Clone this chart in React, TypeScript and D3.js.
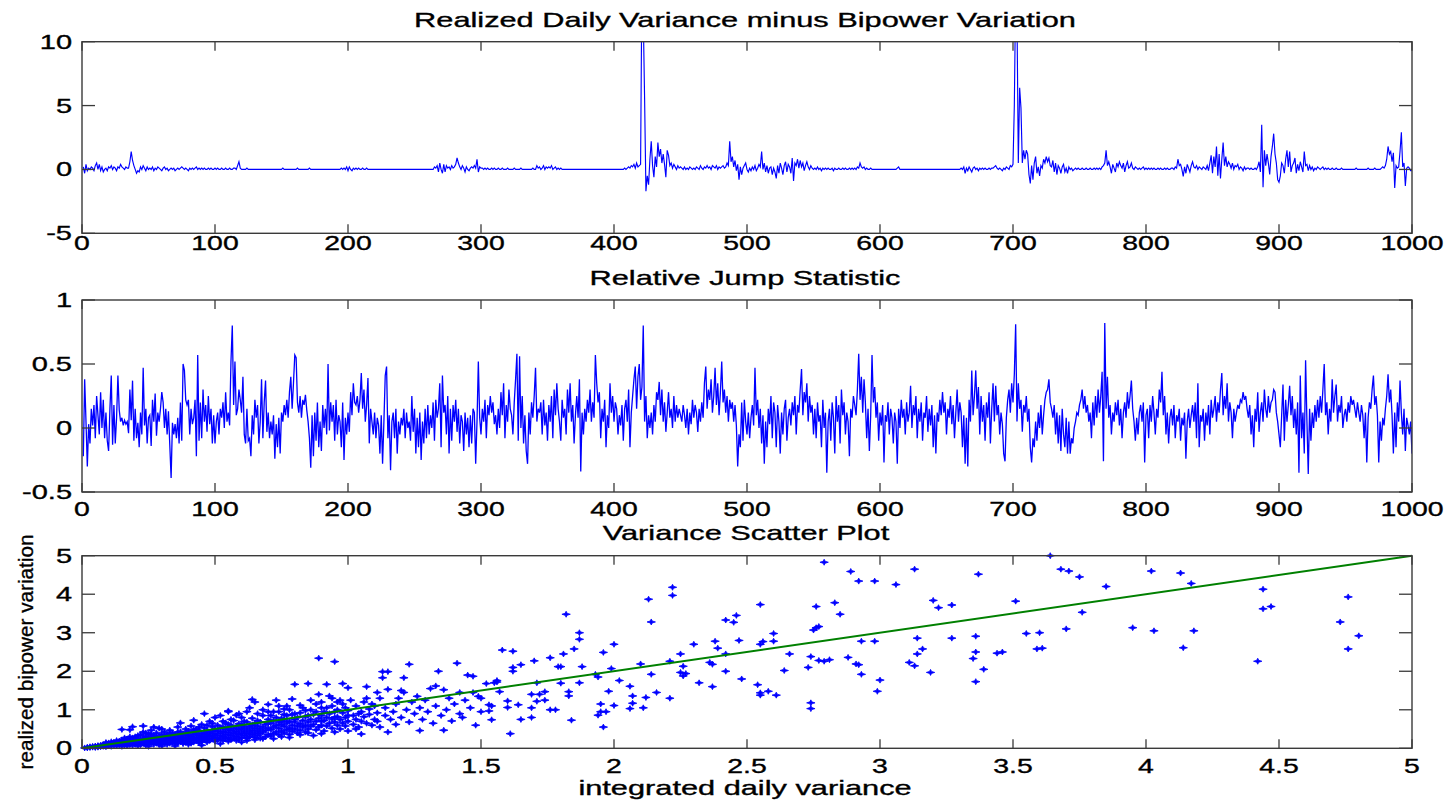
import React from "react";
import * as d3 from "d3";

// ---------------- DATA ----------------
// Panel 1: realized daily variance minus bipower variation, days 1..1000
const rvMinusBv: number[] = [
  0.2,-0.3,0.4,-0.1,0.1,0,0.2,0.1,-0.1,0.3, 0.5,0,0.4,-0.1,0.2,-0.2,0,0.1,-0.1,0.2, 0.1,0.3,0,0.2,0.1,-0.1,0.2,0.1,0.4,0.2, 0.1,0,0.2,0.1,0.1,0.6,1.4,0.7,0.3,0, -0.3,-0.1,-0.2,0.2,0,0.3,0.1,-0.1,0.2,0,
  0.1,0,0.2,-0.1,0.1,0,0.2,0.1,0,-0.1, 0.1,0.2,0,0.1,-0.1,0,0.1,0,0.1,-0.1, 0,0.1,0,0.1,0.2,0.1,0,0.1,0,-0.1, 0.1,0,0.1,0,0.1,0.2,0,0.1,0,0.1, 0,0.1,0,0,0.1,0,0.1,0,0,0.1,
  0,0.1,0,0,0.1,0,0,0.1,0,0, 0.1,0,0,0.1,0.1,0,0.3,0.6,0.1,0, 0,0,0,0.1,0,0,0,0,0,0, 0,0,0,0,0,0,0,0,0,0, 0,0,0,0,0,0,0,0,0,0,
  0.1,0,0,0,0,0,0,0,0,0, 0,0.1,0,0,0,0,0,0,0,0, 0.1,0,0,0,0,0,0,0,0,0, 0,0,0,0,0,0,0,0,0,0, 0,0,0,0,0.1,0,0.1,0,0.2,-0.1,
  0.2,0,-0.1,0.1,0,0.1,0,0.1,0,0, 0.1,0,0,0.1,0,0,0,0,0,0, 0,0,0,0,0,0,0,0,0,0, 0,0,0,0,0,0,0,0,0,0, 0,0,0,0,0,0,0,0,0,0,
  0,0,0,0,0,0,0,0,0,0, 0,0,0,0,0.2,0.1,0.3,-0.2,0.5,0, -0.3,0.4,-0.2,0.3,0.1,0.2,0,0.3,0.1,0.2, 0.4,0.9,0.5,0.2,0,0.3,0.1,-0.2,0.2,0, -0.1,0.1,0.2,0.1,0.3,0.1,0.8,-0.2,0.2,0.1,
  0.1,0,0.1,0,0.1,0,0,0.1,0,0.1, 0,0,0.1,0,0,0.1,0,0,0,0.1, 0,0,0,0,0.1,0,0,0,0,0.1, 0,0,0,0,0,0,0,0,0.1,0, 0,0.3,0.1,0.2,0,0.1,0.3,0,0.2,0.1,
  0.2,0.1,0.3,0,0.1,0.2,0,0.1,0,0.1, 0,0,0,0,0,0,0,0,0,0, 0,0,0,0,0,0,0,0,0,0, 0,0,0,0,0,0,0,0,0,0, 0,0,0,0,0,0,0,0,0,0,
  0,0,0,0,0,0,0,0.1,0,0.1, 0.2,0.1,0.3,0.2,0.4,0.1,0.5,0.2,0.3,0.4, 15,12,5.6,-1.7,-0.5,-1.2,0.8,2.2,0.3,-0.6, 1.0,0.2,2.1,1.0,1.6,0.5,1.2,0.4,-0.6,1.5, 1.1,0.3,0.5,0.1,0.4,0.2,0,0.3,0.1,0.2,
  0.1,0,0.2,0,0.1,0,0.2,0.1,0,0.1, 0,0.2,0.1,0,0.3,0.1,0,0.2,0.1,0.3, 0.1,0.2,0,0.3,0.2,0.1,0.3,0,0.2,0.1, 0.2,0.3,0.1,0.2,0.5,0.3,2.2,0.6,1.0,0.2, 0.7,-0.1,0.4,-0.8,0.2,-0.4,0.1,0.3,0.5,0,
  -0.2,0.1,-0.1,0.2,0,0.3,-0.1,0.1,0.4,0.2, 1.4,0,0.5,-0.2,0.3,-0.3,0.1,0.2,-0.4,0.1, -0.2,-0.7,0.3,-0.3,0.5,0.1,-0.4,0.3,0.6,-0.2, 0.4,0.2,-0.3,0.9,-0.9,0.5,0.3,0.8,0.1,0.7, 0.2,0.5,-0.1,0.3,0.6,0.2,0,0.3,0.1,0,
  0.1,0,0.2,0,0.1,-0.1,0.1,0,0.1,0, 0.1,0,0,0.1,-0.1,0.1,0,0,0.1,0, 0,0.1,0,0.1,0,0,0.1,0,0.1,0, 0.1,0,0.2,0.1,0.5,0.2,0.1,0.2,0,0.1, 0,0,0.1,0,0,0,0,0,0,0,
  0,0,0,0,0,0,0,0,0,0, 0,0,0.1,0.2,0,0,0,0,0,0, 0,0,0,0,0,0,0,0,0,0, 0,0,0,0,0,0,0,0,0,0, 0,0,0,0,0,0,0,0,0,0,
  0,0,0,0,0,0,0,0,0,0, 0.1,0,0.2,-0.3,0.1,-0.1,0.2,0,-0.2,0.1, 0.2,0,0.1,-0.1,0.1,0,0.1,0,0.1,0, 0,0.1,0,0.1,0.1,0.2,0.3,0.1,0,0.1, 0,-0.1,0.1,0,0.2,0.1,0,0.3,0.2,0.4,
  5.0,14,12,0.5,6.4,4.8,0.5,1.5,0.8,1.5, 1.2,-0.4,-1.1,0.3,-0.8,0.5,1.0,-0.3,0.2,-0.5, 0.3,0.1,0.8,0.5,1.0,0.6,0.9,0.3,0.2,0.7, -0.2,0.5,-0.4,0.3,0.1,-0.3,0.2,0.4,-0.2,0.1, -0.3,0.2,0,0.1,-0.1,0,0.1,0,0.1,0,
  0,0.1,0,0,0.1,0,0,0.1,0,0, 0.1,0,0.1,0,0.1,0,0.2,0.3,0.5,1.5, 0.3,0.6,0.2,-0.3,0.4,0.1,-0.2,0.5,0.2,0.6, 0.3,0.1,0.5,-0.2,0.3,0.6,0.1,0.2,0.5,0.1, 0,0.2,0.1,0,0.1,0,0.1,0.2,0,0.1,
  0,0.1,0,0.1,0,0.1,0,0,0.1,0, 0.1,0,0,0.1,0,0.1,0,0,0.1,0.1, 0,0.2,0.1,0.8,0.3,0.4,0,-0.55,0.2,-0.3, 0.4,0.1,-0.2,0.3,0.6,0.2,0.1,0.3,0,0.2, 0.1,0,0.2,0.1,0,0.3,-0.1,0.5,1.1,-0.3,
  1.0,0.2,1.8,-0.5,1.2,-0.7,0.8,2.1,0.3,1.0, 0.2,0.6,0.4,0.1,0.5,0,0.3,0.2,0.4,0, 0.2,0.1,-0.1,0.2,0,0.1,0.1,0,0.1,0, 0,0.1,0,0.2,0.6,-0.2,3.5,-1.4,1.5,0.3, 1.2,0.5,-0.4,1.0,1.8,2.8,1.2,0.5,-0.8,-1.0,
  -0.5,0.5,0.3,-0.3,0.8,1.5,0.2,1.4,-0.2,0.3, 0.5,0.9,-0.3,0.4,-0.1,0.6,0.2,-0.2,1.4,0.3, 0.4,-0.1,0.3,0,0.2,-0.1,0.1,0,0.2,0.1, 0,0.1,0.2,0,0.1,0,0.1,0,0,0.1, 0,0,0.1,0,0,0,0.1,0,0,0,
  0,0,0,0,0,0,0,0.1,0,0, 0,0,0,0,0,0,0.1,0,0,0, 0,0.1,0,0,0,0,0.1,0.2,0.1,0.3, 0.8,1.8,1.2,1.4,0.6,1.3,-1.45,0.3,0.1,0.2, 1.4,2.9,0.2,0.5,-1.3,0.1,0.2,0.1,-0.1,-0.1,
];

// Panel 2: relative jump statistic, in hundredths, days 1..1000
const relJumpX100: number[] = [
  -22,38,5,-30,3,-12,15,2,18,-8,25,10,-5,28,0,22,-8,12,-10,-18,15,41,-13,18,-12,8,41,14,5,8,2,6,3,5,-4,30,6,37,-10,15,-8,4,-15,12,-5,47,2,15,-12,8,
  10,-14,22,5,27,-6,12,5,15,28,20,0,15,-5,13,-13,-39,4,-5,3,-8,8,-12,20,-10,50,45,22,18,22,-5,15,3,8,22,-22,57,-10,20,-8,30,5,18,-3,25,3,15,-12,10,-12,
  5,12,-5,15,8,20,0,28,5,12,2,52,80,18,52,10,15,30,22,12,40,-5,-12,15,-10,-8,-22,10,-5,22,8,18,-12,5,38,-8,20,37,-3,12,-8,5,-5,10,-24,3,-15,8,-20,12,
  5,18,10,22,8,28,40,15,35,57,55,20,12,25,8,22,18,26,14,5,-8,-31,10,-22,12,-10,20,-15,5,-18,18,0,15,-5,50,-2,20,5,18,-10,22,-5,10,5,-15,20,-25,8,-5,12,
  -3,28,10,35,20,18,25,12,22,43,15,30,5,18,39,-12,15,5,-5,12,-8,8,2,-20,10,-28,5,41,48,-8,10,-33,5,12,-8,15,-20,5,-5,8,2,15,-8,12,0,5,-10,25,-3,15,
  -20,8,-15,12,-25,5,-12,15,-8,18,-5,10,0,20,-10,22,8,15,35,-15,41,12,18,-5,25,-20,15,-10,18,5,22,-3,15,-12,10,5,-18,12,-5,8,-15,10,-12,15,12,-28,5,52,8,-5,
  15,5,22,-8,18,10,25,12,20,3,10,-5,15,0,28,10,35,-8,18,5,30,15,10,-5,20,38,58,-10,56,0,25,-12,10,-18,-28,12,-5,20,8,25,47,5,15,12,20,-5,22,2,12,-10,
  18,5,25,-8,30,10,35,15,5,-10,22,8,15,-5,30,12,35,5,18,-12,10,25,8,38,-34,12,-5,15,5,22,12,30,5,20,8,57,35,20,28,-8,15,5,22,-15,10,0,35,12,25,5,
  20,15,-5,10,2,18,-10,15,22,5,30,-15,12,25,38,48,15,40,50,22,32,80,5,25,-8,10,0,12,-5,18,5,28,22,36,10,30,5,20,-3,12,28,8,15,0,25,5,18,8,15,10,
  5,18,10,0,15,-5,12,3,22,8,18,12,-3,15,5,20,8,35,48,15,30,22,38,12,25,47,18,35,10,28,52,20,30,12,25,5,22,15,20,5,18,2,-30,-5,-15,20,-10,22,5,-5,
  12,-8,8,18,2,47,10,22,0,15,-12,10,-28,5,-15,15,3,25,-8,20,12,-15,18,5,-20,12,-5,15,22,-10,8,15,2,20,10,25,-5,18,12,30,46,10,28,20,35,5,25,12,18,-5,
  15,-8,20,5,10,-15,22,0,12,-35,5,15,-10,20,8,-20,25,5,18,-12,30,10,20,-5,12,5,-22,15,8,25,18,10,30,58,22,40,12,38,20,-8,15,-18,10,57,20,32,8,20,-10,12,
  2,18,-27,10,5,20,-5,15,8,-12,12,5,-28,15,0,22,8,15,-5,20,5,12,33,0,18,10,25,-8,15,5,20,-10,12,8,25,-3,15,2,18,-15,10,-20,12,5,22,10,28,12,20,-5,
  15,8,25,3,18,-8,12,30,5,20,12,-15,10,-28,8,-30,22,5,45,10,25,45,15,32,-5,25,5,18,-10,20,8,28,-12,15,35,5,33,10,18,-5,12,3,-20,-26,8,22,30,12,35,20,
  42,81,5,35,15,22,-3,18,12,25,5,15,-15,-27,-8,-15,5,-10,12,0,18,-5,10,22,28,30,38,20,15,8,18,-5,12,-12,10,-18,15,-5,-15,8,-20,5,-20,-8,-12,0,5,12,10,18,
  22,30,15,25,12,18,5,12,-8,20,2,25,8,30,12,25,44,-26,82,15,40,8,18,-5,12,5,20,10,22,2,15,-8,12,20,8,28,15,25,37,15,5,-10,8,-5,12,18,5,20,-27,10,
  15,-8,18,5,25,12,-5,15,8,30,20,44,10,25,-5,12,-12,8,15,2,18,-8,10,5,15,-10,8,2,12,-24,5,15,0,10,18,5,20,-8,35,-15,10,5,15,-10,12,2,18,-5,22,8,
  15,25,5,20,12,30,43,10,25,15,35,5,20,12,-8,15,5,12,18,15,22,20,28,22,25,15,8,18,-5,10,-15,15,5,28,-3,12,20,5,30,15,8,25,12,20,22,30,28,12,5,-5,
  -15,10,34,-10,22,5,18,33,10,25,0,15,-5,20,-35,41,-8,12,-20,53,5,-36,15,-10,12,0,18,5,22,8,25,12,30,50,10,20,-5,15,5,38,12,25,34,5,18,12,25,0,10,15,
  5,20,12,25,18,22,15,8,20,12,5,18,10,-8,12,-27,8,20,15,30,41,18,25,10,-27,5,-10,8,2,15,25,42,20,30,10,-20,12,-15,20,5,37,12,-5,15,-18,8,2,-5,5,-20,
];

// Panel 3: (integrated daily variance, realized bipower variation)
const scatterPts: [number, number][] = [
  [0.01,0.01],[0.02,0.01],[0.02,0.03],[0.03,0.02],[0.03,0.04],[0.04,0.03],[0.04,0.05],[0.05,0.02],[0.05,0.06],[0.05,0.04],
  [0.06,0.03],[0.06,0.07],[0.06,0.05],[0.07,0.04],[0.07,0.08],[0.07,0.06],[0.08,0.05],[0.08,0.1],[0.08,0.07],[0.09,0.04],
  [0.09,0.08],[0.09,0.12],[0.1,0.06],[0.1,0.1],[0.1,0.14],[0.11,0.05],[0.11,0.09],[0.11,0.12],[0.12,0.07],[0.12,0.11],
  [0.12,0.16],[0.13,0.06],[0.13,0.1],[0.13,0.14],[0.14,0.08],[0.14,0.12],[0.14,0.19],[0.15,0.05],[0.15,0.1],[0.15,0.15],
  [0.15,0.22],[0.16,0.08],[0.16,0.13],[0.16,0.18],[0.17,0.06],[0.17,0.11],[0.17,0.16],[0.17,0.24],[0.18,0.09],[0.18,0.14],
  [0.18,0.2],[0.18,0.48],[0.19,0.07],[0.19,0.12],[0.19,0.17],[0.19,0.27],[0.2,0.1],[0.2,0.15],[0.2,0.21],[0.2,0.3],
  [0.21,0.06],[0.21,0.13],[0.21,0.18],[0.21,0.25],[0.22,0.09],[0.22,0.16],[0.22,0.22],[0.22,0.35],[0.23,0.12],[0.23,0.19],
  [0.23,0.27],[0.23,0.42],[0.24,0.08],[0.24,0.15],[0.24,0.23],[0.24,0.31],[0.25,0.11],[0.25,0.18],[0.25,0.26],[0.25,0.38],
  [0.26,0.14],[0.26,0.21],[0.26,0.29],[0.26,0.47],[0.27,0.1],[0.27,0.17],[0.27,0.24],[0.27,0.33],[0.28,0.13],[0.28,0.2],
  [0.28,0.28],[0.28,0.4],[0.29,0.09],[0.29,0.16],[0.29,0.23],[0.29,0.31],[0.3,0.12],[0.3,0.19],[0.3,0.27],[0.3,0.36],
  [0.3,0.5],[0.15,0.49],[0.19,0.56],[0.23,0.58],[0.27,0.55],[0.29,0.52],[0.46,0.9],[0.42,0.73],[0.37,0.66],
  [0.31,0.15],[0.31,0.22],[0.31,0.3],[0.31,0.42],[0.32,0.1],[0.32,0.18],[0.32,0.26],[0.32,0.35],[0.33,0.13],[0.33,0.21],
  [0.33,0.29],[0.33,0.47],[0.34,0.16],[0.34,0.24],[0.34,0.33],[0.34,0.4],[0.35,0.11],[0.35,0.19],[0.35,0.27],[0.35,0.36],
  [0.36,0.14],[0.36,0.22],[0.36,0.31],[0.36,0.55],[0.37,0.17],[0.37,0.25],[0.37,0.34],[0.37,0.43],[0.38,0.12],[0.38,0.2],
  [0.38,0.29],[0.38,0.38],[0.39,0.15],[0.39,0.24],[0.39,0.33],[0.39,0.5],[0.4,0.18],[0.4,0.27],[0.4,0.37],[0.4,0.45],
  [0.41,0.13],[0.41,0.22],[0.41,0.31],[0.41,0.58],[0.42,0.16],[0.42,0.26],[0.42,0.35],[0.42,0.42],[0.43,0.2],[0.43,0.29],
  [0.43,0.39],[0.43,0.5],[0.44,0.14],[0.44,0.24],[0.44,0.33],[0.44,0.46],[0.45,0.18],[0.45,0.28],[0.45,0.37],[0.45,0.62],
  [0.46,0.22],[0.46,0.31],[0.46,0.41],[0.46,0.53],[0.47,0.16],[0.47,0.26],[0.47,0.35],[0.47,0.45],[0.48,0.2],[0.48,0.3],
  [0.48,0.4],[0.48,0.7],[0.49,0.24],[0.49,0.34],[0.49,0.44],[0.49,0.56],[0.5,0.18],[0.5,0.28],[0.5,0.38],[0.5,0.49],[0.5,0.8],
  [0.51,0.22],[0.51,0.33],[0.51,0.45],[0.51,0.6],[0.52,0.27],[0.52,0.39],[0.52,0.52],[0.52,0.85],[0.53,0.2],[0.53,0.31],
  [0.53,0.43],[0.53,0.56],[0.54,0.25],[0.54,0.36],[0.54,0.48],[0.54,0.66],[0.55,0.29],[0.55,0.41],[0.55,0.53],[0.55,0.95],
  [0.56,0.22],[0.56,0.34],[0.56,0.46],[0.56,0.6],[0.57,0.27],[0.57,0.39],[0.57,0.51],[0.57,0.72],[0.58,0.31],[0.58,0.43],
  [0.58,0.56],[0.59,0.24],[0.59,0.36],[0.59,0.48],[0.59,0.64],[0.6,0.28],[0.6,0.4],[0.6,0.53],[0.6,0.8],[0.61,0.33],
  [0.61,0.45],[0.61,0.58],[0.62,0.26],[0.62,0.38],[0.62,0.5],[0.62,0.68],[0.63,0.3],[0.63,0.42],[0.63,0.55],[0.63,1.05],
  [0.64,0.35],[0.64,0.47],[0.64,0.6],[0.64,0.78],[0.65,0.28],[0.65,0.4],[0.65,0.52],[0.65,1.2],[0.66,0.33],[0.66,0.45],
  [0.66,0.58],[0.66,0.9],[0.67,0.26],[0.67,0.38],[0.67,0.5],[0.67,0.68],[0.68,0.42],[0.68,0.55],[0.68,1.0],[0.69,0.3],
  [0.69,0.47],[0.69,0.62],[0.7,0.36],[0.7,0.52],[0.7,0.75],[0.7,0.95],[0.64,1.27],[0.7,1.14],[0.55,0.97],[0.58,0.86],
  [0.71,0.32],[0.71,0.48],[0.71,0.65],[0.71,0.85],[0.72,0.38],[0.72,0.55],[0.72,0.72],[0.73,0.42],[0.73,0.6],[0.73,0.8],
  [0.73,1.25],[0.74,0.35],[0.74,0.52],[0.74,0.68],[0.74,0.95],[0.75,0.45],[0.75,0.62],[0.75,0.78],[0.76,0.4],[0.76,0.57],
  [0.76,0.74],[0.76,1.02],[0.77,0.48],[0.77,0.66],[0.77,0.85],[0.77,1.1],[0.78,0.36],[0.78,0.53],[0.78,0.7],[0.79,0.44],
  [0.79,0.6],[0.79,0.88],[0.79,1.28],[0.8,0.5],[0.8,0.68],[0.8,1.66],[0.81,0.4],[0.81,0.58],[0.81,0.8],[0.82,0.47],
  [0.82,0.64],[0.82,0.92],[0.83,0.55],[0.83,0.72],[0.83,1.05],[0.84,0.42],[0.84,0.6],[0.84,0.82],[0.85,0.5],[0.85,0.68],
  [0.85,1.68],[0.86,0.57],[0.86,0.75],[0.86,1.0],[0.87,0.33],[0.87,0.62],[0.87,0.88],[0.88,0.48],[0.88,0.7],[0.88,1.15],
  [0.89,0.55],[0.89,0.78],[0.89,1.4],[0.89,2.34],[0.9,0.6],[0.9,0.85],[0.9,1.05],[0.91,0.45],[0.91,0.72],[0.91,0.95],
  [0.92,0.58],[0.92,0.8],[0.92,1.66],[0.93,0.65],[0.93,0.9],[0.93,1.36],[0.94,0.52],[0.94,0.76],[0.94,1.1],[0.95,0.68],
  [0.95,0.95],[0.95,2.25],[0.96,0.6],[0.96,0.82],[0.96,1.2],[0.97,0.5],[0.97,0.75],[0.97,1.25],[0.98,0.66],[0.98,0.92],
  [0.98,1.68],[0.99,0.58],[0.99,0.8],[0.99,1.05],[1.0,0.7],[1.0,0.98],[1.0,1.57],
  [0.52,0.12],[0.55,0.18],[0.58,0.2],[0.6,0.16],[0.62,0.2],[0.65,0.22],[0.68,0.25],[0.72,0.25],[0.75,0.3],[0.78,0.28],
  [0.82,0.35],[0.85,0.4],[0.9,0.38],[0.95,0.42],[1.0,0.45],[1.03,0.5],[0.53,0.7],[0.56,0.75],[0.59,0.9],[0.61,0.7],
  [0.62,0.95],[0.66,0.72],[0.68,0.85],[0.72,0.95],[0.74,1.1],[0.76,0.88],[0.78,1.0],[0.8,0.9],[0.82,1.12],[0.84,0.98],
  [0.86,1.25],[0.88,0.95],[0.9,1.2],[0.92,1.05],[0.94,1.3],[0.96,1.0],[0.98,1.15],[1.01,1.25],[1.04,0.9],[1.07,1.3],
  [1.09,1.15],[1.11,1.45],[0.45,0.08],[0.4,0.1],[0.35,0.06],[0.3,0.06],[0.25,0.05],[0.33,0.38],[0.36,0.42],[0.39,0.4],
  [0.42,0.48],[0.44,0.55],[0.47,0.6],[0.49,0.65],[0.26,0.36],[0.24,0.4],[0.21,0.33],[0.18,0.3],[0.16,0.27],[0.13,0.2],
  [0.11,0.17],[0.09,0.15],[0.65,0.65],[0.7,0.65],[0.75,0.7],[0.8,0.75],[0.85,0.85],[0.9,0.7],[0.95,0.8],[1.0,0.85],
  [0.6,0.62],[0.55,0.62],
  [1.02,0.62],[1.02,0.85],[1.03,1.1],[1.03,0.75],[1.04,0.55],[1.05,0.37],[1.05,0.7],[1.05,0.95],[1.06,1.2],[1.06,0.82],
  [1.07,1.6],[1.07,0.65],[1.08,1.02],[1.08,0.88],[1.09,0.6],[1.1,0.75],[1.1,1.1],[1.11,0.7],[1.11,0.92],[1.12,1.3],
  [1.12,0.55],[1.13,1.99],[1.13,1.83],[1.14,0.85],[1.14,1.05],[1.15,0.42],[1.15,1.53],[1.15,1.99],[1.16,0.75],[1.17,0.95],
  [1.18,1.15],[1.18,0.62],[1.19,1.3],[1.2,1.5],[1.2,0.8],[1.21,1.45],[1.21,1.83],[1.22,1.0],[1.23,2.18],[1.23,0.68],
  [1.24,1.2],[1.25,0.9],[1.26,1.35],[1.27,0.46],[1.27,1.05],[1.28,0.75],[1.29,1.25],[1.3,0.95],[1.31,1.55],[1.32,0.65],
  [1.33,1.62],[1.33,1.1],[1.34,2.0],[1.35,0.85],[1.36,0.47],[1.36,1.52],[1.37,1.0],[1.38,1.3],[1.39,0.71],[1.4,1.15],
  [1.41,2.21],[1.42,0.9],[1.42,1.45],[1.43,0.8],[1.44,1.25],[1.45,1.9],[1.46,1.05],[1.47,1.87],[1.47,1.45],[1.48,0.6],
  [1.49,1.35],[1.5,0.95],[1.5,1.3],
  [1.52,1.68],[1.53,1.13],[1.53,0.97],[1.54,0.74],[1.54,1.1],[1.55,1.7],[1.56,1.76],[1.56,1.72],[1.57,1.47],[1.58,2.55],
  [1.6,1.23],[1.6,1.06],[1.61,0.38],[1.62,2.52],[1.62,2.1],[1.62,2.0],[1.64,1.13],[1.65,2.17],[1.65,0.75],[1.69,1.4],
  [1.69,1.05],[1.69,0.8],[1.7,2.27],[1.71,1.7],[1.71,1.22],[1.72,1.4],[1.74,1.47],[1.74,1.25],[1.76,2.35],[1.76,1.0],
  [1.78,1.0],[1.79,2.12],[1.8,2.12],[1.8,1.69],[1.81,2.45],[1.82,3.48],[1.83,1.47],[1.83,1.36],[1.84,0.73],[1.85,2.58],
  [1.87,3.0],[1.87,2.83],[1.87,1.7],[1.88,2.12],[1.93,1.92],[1.94,1.85],[1.95,1.15],[1.95,0.95],[1.94,0.86],[1.96,2.49],
  [1.96,0.55],[1.97,0.95],[1.98,1.48],[1.99,2.07],[2.0,1.11],[2.0,2.7],[2.02,1.76],[2.06,1.61],[2.07,1.36],[2.07,1.17],
  [2.06,1.03],[2.1,2.19],[2.11,1.05],[2.12,1.32],[2.13,3.87],[2.14,1.92],[2.14,3.28],[2.16,1.45],[2.21,1.3],[2.21,2.26],
  [2.22,4.18],[2.22,3.97],[2.25,2.45],[2.25,1.97],[2.26,2.13],[2.26,1.88],[2.27,1.94],[2.3,2.7],[2.32,1.7],[2.36,2.23],
  [2.37,2.18],[2.37,1.6],[2.38,2.78],[2.39,2.6],[2.42,2.45],[2.42,2.0],[2.42,3.33],[2.45,3.27],[2.46,3.45],[2.47,2.8],
  [2.48,1.8],[2.54,1.65],[2.55,2.7],[2.55,1.44],[2.55,1.38],[2.55,3.73],[2.56,2.77],[2.58,1.48],[2.6,2.98],[2.6,2.78],
  [2.61,1.38],[2.64,2.02],[2.66,2.45],[2.73,2.1],[2.74,2.38],[2.74,1.18],[2.74,1.03],[2.75,3.07],[2.76,3.13],[2.77,3.16],
  [2.76,3.68],[2.77,2.28],[2.79,2.26],[2.79,4.83],[2.81,2.3],[2.83,3.78],[2.85,3.48],[2.88,2.36],[2.89,4.59],[2.91,2.19],
  [2.92,2.17],[2.92,4.34],[2.93,1.92],[2.93,2.78],[2.98,4.34],[2.98,2.78],[2.99,1.48],[3.0,1.77],[3.06,4.25],[3.11,2.23],
  [3.13,2.14],[3.13,4.65],[3.14,2.45],[3.14,2.86],[3.16,2.58],[3.19,1.97],[3.2,3.84],[3.22,3.65],[3.27,3.72],[3.27,2.86],
  [3.36,2.91],[3.36,2.5],[3.35,2.33],[3.36,1.73],[3.37,4.52],[3.39,2.05],[3.44,2.47],[3.46,2.5],[3.51,3.82],[3.55,2.98],
  [3.59,2.58],[3.6,3.0],[3.61,2.6],[3.64,5.0],[3.68,4.65],[3.7,3.1],[3.71,4.6],[3.75,4.45],[3.76,3.53],[3.85,4.2],
  [3.95,3.13],[4.02,4.6],[4.03,3.05],[4.13,4.55],[4.14,2.61],[4.17,4.28],[4.18,3.05],[4.42,2.26],[4.44,4.13],[4.44,3.62],
  [4.47,3.68],[4.73,3.28],[4.76,3.93],[4.76,2.58],[4.8,2.92],
];

// 45-degree reference line
const refLineX: number[] = [0, 5];

// Tick values
const dayTicks: number[] = [0, 100, 200, 300, 400, 500, 600, 700, 800, 900, 1000];
const rvTicks: number[] = [-5, 0, 5, 10];
const rjTicks: number[] = [-0.5, 0, 0.5, 1];
const varTicksX: number[] = [0, 0.5, 1, 1.5, 2, 2.5, 3, 3.5, 4, 4.5, 5];
const varTicksY: number[] = [0, 1, 2, 3, 4, 5];

const titles: string[] = [
  "Realized Daily Variance minus Bipower Variation",
  "Relative Jump Statistic",
  "Variance Scatter Plot",
];

// ---------------- LAYOUT ----------------
const W = 1451;
const H = 807;
const L = 82;
const R = 1412;
const FONT = "'Liberation Sans', Arial, Helvetica, sans-serif";
const SX = 1.47;
const AXIS = "#3a3a3a";

type P = { top: number; bottom: number };
const P1: P = { top: 41.7, bottom: 233.3 };
const P2: P = { top: 300, bottom: 492 };
const P3: P = { top: 555.7, bottom: 748.3 };

function T(props: {
  x: number; y: number; text: string; anchor?: string; size?: number; sx?: number;
}) {
  const { x, y, text, anchor = "middle", size = 20, sx = SX } = props;
  return (
    <text
      transform={`translate(${x},${y}) scale(${sx},1)`}
      textAnchor={anchor}
      fontFamily={FONT}
      fontSize={size}
      fill="#000"
      stroke="#000"
      strokeWidth={0.35}
    >
      {text}
    </text>
  );
}

function Frame(props: {
  p: P;
  x: d3.ScaleLinear<number, number>;
  y: d3.ScaleLinear<number, number>;
  xTicks: number[];
  yTicks: number[];
  xLabelBase: number;
}) {
  const { p, x, y, xTicks, yTicks, xLabelBase } = props;
  const xt = 9;
  const yt = 13;
  return (
    <g>
      {xTicks.map((t, i) => (
        <g key={"x" + i}>
          <line x1={x(t)} x2={x(t)} y1={p.bottom} y2={p.bottom - xt} stroke={AXIS} strokeWidth={1.3} />
          <line x1={x(t)} x2={x(t)} y1={p.top} y2={p.top + xt} stroke={AXIS} strokeWidth={1.3} />
          <T x={x(t)} y={xLabelBase} text={String(t)} sx={1.42} />
        </g>
      ))}
      {yTicks.map((t, i) => (
        <g key={"y" + i}>
          <line x1={L} x2={L + yt} y1={y(t)} y2={y(t)} stroke={AXIS} strokeWidth={1.3} />
          <line x1={R} x2={R - yt} y1={y(t)} y2={y(t)} stroke={AXIS} strokeWidth={1.3} />
          <T x={72} y={y(t) + 7} text={String(t)} anchor="end" sx={1.45} />
        </g>
      ))}
      <rect x={L} y={p.top} width={R - L} height={p.bottom - p.top} fill="none" stroke={AXIS} strokeWidth={1.4} />
    </g>
  );
}

export default function App() {
  const xDays = d3.scaleLinear().domain([0, 1000]).range([L, R]);
  const y1 = d3.scaleLinear().domain([-5, 10]).range([P1.bottom, P1.top]);
  const y2 = d3.scaleLinear().domain([-0.5, 1]).range([P2.bottom, P2.top]);
  const x3 = d3.scaleLinear().domain([0, 5]).range([L, R]);
  const y3 = d3.scaleLinear().domain([0, 5]).range([P3.bottom, P3.top]);

  const line1 = d3.line<number>().x((_, i) => xDays(i + 1)).y((d) => y1(d))(rvMinusBv) || "";
  const line2 = d3.line<number>().x((_, i) => xDays(i + 1)).y((d) => y2(d / 100))(relJumpX100) || "";
  const refLine = d3.line<number>().x((d) => x3(d)).y((d) => y3(d))(refLineX) || "";

  const marker = "M-4.2,0L-1,-1L0,-3L1,-1L4.2,0L1,1L0,3L-1,1Z";

  return (
    <svg
      width={W}
      height={H}
      viewBox={`0 0 ${W} ${H}`}
      style={{ position: "absolute", left: 0, top: 0, background: "#fff" }}
    >
      <defs>
        <clipPath id="c1"><rect x={L} y={P1.top} width={R - L} height={P1.bottom - P1.top} /></clipPath>
        <clipPath id="c2"><rect x={L} y={P2.top} width={R - L} height={P2.bottom - P2.top} /></clipPath>
      </defs>
      <rect x={0} y={0} width={W} height={H} fill="#fff" />

      {/* Panel 1 */}
      <path d={line1} fill="none" stroke="#0000ff" strokeWidth={1.15} clipPath="url(#c1)" />
      <Frame p={P1} x={xDays} y={y1} xTicks={dayTicks} yTicks={rvTicks} xLabelBase={250} />
      <T x={745} y={26.5} text={titles[0]} size={20.5} sx={1.5} />

      {/* Panel 2 */}
      <path d={line2} fill="none" stroke="#0000ff" strokeWidth={1.3} clipPath="url(#c2)" />
      <Frame p={P2} x={xDays} y={y2} xTicks={dayTicks} yTicks={rjTicks} xLabelBase={516} />
      <T x={745} y={285} text={titles[1]} size={20.5} sx={1.5} />

      {/* Panel 3 */}
      <g>
        {scatterPts.map((d, i) => (
          <path key={i} d={marker} transform={`translate(${x3(d[0])},${y3(d[1])})`} fill="#0000ff" stroke="#0000ff" strokeWidth={0.8} />
        ))}
      </g>
      <path d={refLine} fill="none" stroke="#008000" strokeWidth={2} />
      <Frame p={P3} x={x3} y={y3} xTicks={varTicksX} yTicks={varTicksY} xLabelBase={773} />
      <T x={746} y={540} text={titles[2]} size={20.5} sx={1.5} />
      <T x={745} y={795} text="integrated daily variance" size={20.5} sx={1.5} />
      <text
        transform={`translate(33,652) rotate(-90)`}
        textAnchor="middle"
        fontFamily={FONT}
        fontSize={20}
        textLength={235}
        lengthAdjust="spacingAndGlyphs"
        fill="#000"
        stroke="#000"
        strokeWidth={0.35}
      >
        realized bipower variation
      </text>
    </svg>
  );
}
